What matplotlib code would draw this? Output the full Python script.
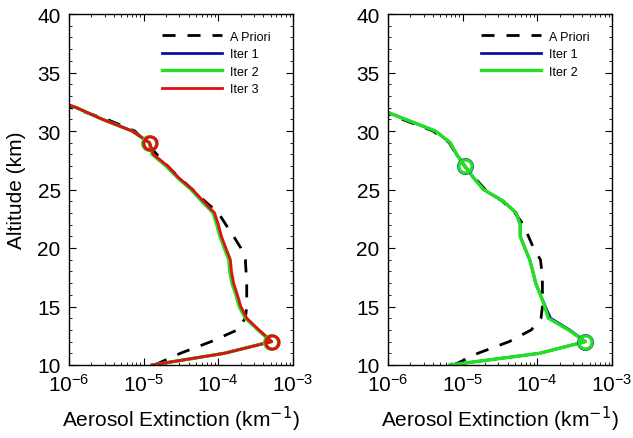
import matplotlib
matplotlib.use("Agg")
import matplotlib.pyplot as plt
from matplotlib.ticker import LogLocator, MultipleLocator, NullFormatter

plt.rcParams["font.family"] = ["Liberation Sans", "DejaVu Sans"]

# altitude grid (km)
alt = [10, 11, 12, 13, 14, 15, 16, 17, 18, 19, 20, 21, 22, 23, 24, 25, 26, 27, 28, 29, 30, 31, 32, 33]

# left panel
left_apriori = [1.4e-5, 3.1e-5, 8.0e-5, 1.8e-4, 2.3e-4, 2.4e-4, 2.4e-4, 2.4e-4, 2.35e-4, 2.3e-4,
                2.0e-4, 1.6e-4, 1.26e-4, 1.0e-4, 6.6e-5, 4.5e-5, 3.0e-5, 2.1e-5, 1.5e-5, 1.1e-5,
                7.6e-6, 3.2e-6, 1.07e-6, 4.0e-7]
left_iter1 = [1.3e-5, 1.2e-4, 5.1e-4, 3.4e-4, 2.35e-4, 1.95e-4, 1.75e-4, 1.55e-4, 1.45e-4, 1.4e-4,
              1.22e-4, 1.07e-4, 9.7e-5, 8.6e-5, 6.1e-5, 4.4e-5, 2.9e-5, 2.05e-5, 1.33e-5, 1.2e-5,
              7.0e-6, 2.8e-6, 1.25e-6, 4.5e-7]
left_iter2 = [1.3e-5, 1.2e-4, 5.1e-4, 3.4e-4, 2.3e-4, 1.9e-4, 1.72e-4, 1.52e-4, 1.42e-4, 1.38e-4,
              1.2e-4, 1.05e-4, 9.5e-5, 8.5e-5, 6.0e-5, 4.3e-5, 2.85e-5, 2.0e-5, 1.3e-5, 1.18e-5,
              7.0e-6, 2.8e-6, 1.25e-6, 4.5e-7]
left_iter3 = [1.3e-5, 1.2e-4, 5.2e-4, 3.5e-4, 2.4e-4, 2.0e-4, 1.8e-4, 1.6e-4, 1.5e-4, 1.45e-4,
              1.26e-4, 1.1e-4, 1.0e-4, 8.9e-5, 6.3e-5, 4.5e-5, 2.95e-5, 2.1e-5, 1.35e-5, 1.2e-5,
              7.0e-6, 2.8e-6, 1.25e-6, 4.5e-7]
left_marks = [12, 29]

# right panel
right_apriori = [7.6e-6, 1.6e-5, 4.2e-5, 8.3e-5, 1.12e-4, 1.17e-4, 1.17e-4, 1.17e-4, 1.15e-4, 1.1e-4,
                 8.9e-5, 7.6e-5, 6.5e-5, 5.0e-5, 3.4e-5, 2.0e-5, 1.45e-5, 1.06e-5, 8.2e-6, 6.6e-6,
                 4.0e-6, 1.55e-6, 6.0e-7, 2.5e-7]
right_iter1 = [6.8e-6, 1.07e-4, 4.4e-4, 2.7e-4, 1.5e-4, 1.28e-4, 1.1e-4, 9.5e-5, 8.7e-5, 7.9e-5,
               6.8e-5, 5.9e-5, 5.9e-5, 5.2e-5, 3.5e-5, 1.9e-5, 1.4e-5, 1.07e-5, 8.3e-6, 6.8e-6,
               4.3e-6, 1.7e-6, 6.9e-7, 2.8e-7]
right_iter2 = [6.8e-6, 1.07e-4, 4.4e-4, 2.6e-4, 1.4e-4, 1.26e-4, 1.1e-4, 9.5e-5, 8.7e-5, 7.9e-5,
               6.8e-5, 5.9e-5, 5.9e-5, 5.2e-5, 3.5e-5, 1.9e-5, 1.4e-5, 1.07e-5, 8.3e-6, 6.8e-6,
               4.3e-6, 1.7e-6, 6.9e-7, 2.8e-7]
right_marks = [12, 27]

BLUE = "#1010a8"
GREEN = "#22e022"
RED = "#dd1111"

fig = plt.figure(figsize=(6.33, 4.39), dpi=100)
ax1 = fig.add_axes([69 / 633, 73 / 439, 224 / 633, 351 / 439])
ax2 = fig.add_axes([388 / 633, 73 / 439, 224 / 633, 351 / 439])


def style(ax):
    ax.set_xscale("log")
    ax.set_xlim(1e-6, 1e-3)
    ax.set_ylim(10, 40)
    ax.xaxis.set_major_locator(LogLocator(base=10, numticks=10))
    ax.xaxis.set_minor_locator(LogLocator(base=10, subs=range(2, 10), numticks=20))
    ax.xaxis.set_minor_formatter(NullFormatter())
    ax.yaxis.set_major_locator(MultipleLocator(5))
    ax.yaxis.set_minor_locator(MultipleLocator(1))
    ax.tick_params(which="both", direction="in", top=True, right=True, labelsize=15, pad=6)
    ax.tick_params(which="major", length=5, width=0.8)
    ax.tick_params(which="minor", length=2.5, width=0.6)
    for s in ax.spines.values():
        s.set_linewidth(1.0)
    ax.set_xlabel("Aerosol Extinction (km$^{-1}$)", fontsize=15, labelpad=6)


def marks(ax, xs, where, color, size):
    for a in where:
        i = alt.index(a)
        ax.plot(xs[i], a, "o", mfc="none", mec=color, mew=2.2, ms=size)


def legend(ax):
    ax.legend(loc="upper right", frameon=False, fontsize=9, handlelength=4.8,
              labelspacing=0.45, handletextpad=0.6, borderaxespad=0.5,
              bbox_to_anchor=(0.95, 0.985))


DASH = (4.7, 4.3)

style(ax1)
ax1.plot(left_apriori, alt, "--", color="black", lw=2, dashes=DASH, label="A Priori")
ax1.plot(left_iter1, alt, color=BLUE, lw=2, label="Iter 1")
ax1.plot(left_iter2, alt, color=GREEN, lw=2.4, label="Iter 2")
ax1.plot(left_iter3, alt, color=RED, lw=2, label="Iter 3")
marks(ax1, left_iter2, left_marks, GREEN, 10)
marks(ax1, left_iter3, left_marks, RED, 9.5)
ax1.set_ylabel("Altitude (km)", fontsize=15, labelpad=8)
legend(ax1)

style(ax2)
ax2.plot(right_apriori, alt, "--", color="black", lw=2, dashes=DASH, label="A Priori")
ax2.plot(right_iter1, alt, color=BLUE, lw=2, label="Iter 1")
ax2.plot(right_iter2, alt, color=GREEN, lw=2.4, label="Iter 2")
marks(ax2, right_iter1, right_marks, BLUE, 10)
marks(ax2, right_iter2, right_marks, GREEN, 9.5)
legend(ax2)

fig.savefig("out.png", dpi=100)
